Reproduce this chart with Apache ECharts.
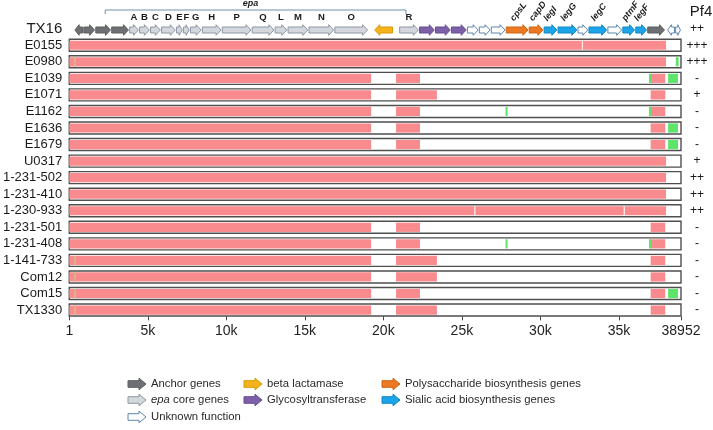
<!DOCTYPE html>
<html><head><meta charset="utf-8">
<script src="https://cdn.jsdelivr.net/npm/echarts@6/dist/echarts.min.js"></script>
<style>html,body{margin:0;padding:0;background:#fff}#c{width:713px;height:430px}</style>
</head><body><div id="c"></div>
<script>
// ---------- data ----------
const X_MIN = 1, X_MAX = 38952;
const rowNames = ['TX16','E0155','E0980','E1039','E1071','E1162','E1636','E1679','U0317','1-231-502','1-231-410','1-230-933','1-231-501','1-231-408','1-141-733','Com12','Com15','TX1330'];
const pf4 = ['++','+++','+++','-','+','-','-','-','+','++','++','++','-','-','-','-','-','-'];
const xTicks = [1,5000,10000,15000,20000,25000,30000,35000,38952];

const geneTypes = ['Anchor genes','epa core genes','beta lactamase','Glycosyltransferase','Polysaccharide biosynthesis genes','Sialic acid biosynthesis genes','Unknown function'];
const typeFill   = ['#6d6f72','#d4d7db','#f5b31b','#7d60a8','#ec7822','#1ca4e8','#ffffff'];
const typeStroke = ['#5c5e61','#8e98a5','#d99800','#664d92','#cf6414','#1188c8','#5f86b0'];

const geneStart  = [320,890,1650,2665,3807,4441,5140,5837,6789,7233,7677,8438,9707,11610,13070,13894,15226,16875,19413,20999,22268,23283,24298,25313,26074,26835,27787,29246,30198,31086,32355,33053,34258,35210,36034,36796,38065,38573];
const geneEnd    = [890,1650,2665,3807,4441,5140,5837,6789,7233,7677,8438,9707,11610,13070,13894,15226,16875,19032,20618,22268,23283,24298,25313,26074,26835,27787,29246,30198,31086,32355,33053,34258,35210,36034,36796,37938,38573,38952];
const geneStrand = [-1,1,1,1,1,1,1,1,1,1,1,1,1,1,1,1,1,1,-1,1,1,1,1,1,1,1,1,1,1,1,1,1,1,1,1,1,-1,1];
const geneType   = [0,0,0,0,1,1,1,1,1,1,1,1,1,1,1,1,1,1,2,1,3,3,3,6,6,6,4,4,5,5,6,5,6,5,5,0,6,6];
const geneLabel  = ['','','','','A','B','C','D','E','F','G','H','P','Q','L','M','N','O','','R','','','','','','','cpsL','capD','legI','legG','','legC','','ptmF','legF','','',''];
const epaBracket = [2290, 21440];

const pinkSegments = [
  ['E0155',1,32640],['E0155',32700,38000],
  ['E0980',1,38000],
  ['E1039',1,19222],['E1039',20808,22331],['E1039',37020,37950],
  ['E1071',1,19222],['E1071',20808,23410],['E1071',37020,37950],
  ['E1162',1,19222],['E1162',20808,22331],['E1162',37020,37950],
  ['E1636',1,19222],['E1636',20808,22331],['E1636',37020,37950],
  ['E1679',1,19222],['E1679',20808,22331],['E1679',37020,37950],
  ['U0317',1,38000],
  ['1-231-502',1,38000],
  ['1-231-410',1,38000],
  ['1-230-933',1,25790],['1-230-933',25860,35300],['1-230-933',35370,38000],
  ['1-231-501',1,19222],['1-231-501',20808,22331],['1-231-501',37020,37950],
  ['1-231-408',1,19222],['1-231-408',20808,22331],['1-231-408',37020,37950],
  ['1-141-733',1,19222],['1-141-733',20808,23410],['1-141-733',37020,37950],
  ['Com12',1,19222],['Com12',20808,23410],['Com12',37020,37950],
  ['Com15',1,19222],['Com15',20808,22331],['Com15',37020,37950],
  ['TX1330',1,19222],['TX1330',20808,23410],['TX1330',37020,37950]
];
const greenMarks = [
  ['E0980',38620,38800],
  ['E1039',36930,37020],['E1039',38130,38760],
  ['E1162',27790,27900],['E1162',36930,37020],
  ['E1636',38130,38760],
  ['E1679',38130,38760],
  ['1-231-408',27790,27900],['1-231-408',36930,37020],
  ['Com15',38130,38760]
];
const tanMarks = [
  ['E0980',300,420],['1-141-733',300,420],['Com12',300,420],['Com15',300,420],['TX1330',300,420]
];

// ---------- chart ----------
const rowIndex = {}; rowNames.forEach((n,i)=>rowIndex[n]=i);
const FONT = "'Liberation Sans', Arial, sans-serif";
const LEG_FONT = "'Liberation Sans', Arial, sans-serif";
const GENE_SHIFT = 1.3;
const BOX_H = 6, BAR_H = 4.6;

function arrowPts(x0, x1, cy, h1, h2, hlMax, dir){
  const len = x1 - x0;
  const hl = Math.min(hlMax, len * 0.55);
  if (dir >= 0) {
    return [[x0,cy-h1],[x1-hl,cy-h1],[x1-hl,cy-h2],[x1,cy],[x1-hl,cy+h2],[x1-hl,cy+h1],[x0,cy+h1]];
  }
  return [[x1,cy-h1],[x0+hl,cy-h1],[x0+hl,cy-h2],[x0,cy],[x0+hl,cy+h2],[x0+hl,cy+h1],[x1,cy+h1]];
}

function segRender(color, minW){
  return function(params, api){
    const r = api.value(1);
    const a = api.coord([api.value(0), r]);
    const b = api.coord([api.value(2), r]);
    let w = b[0]-a[0]; let x = a[0];
    if (w < minW){ x = (a[0]+b[0])/2 - minW/2; w = minW; }
    return {type:'rect', shape:{x:x, y:a[1]-BAR_H, width:w, height:BAR_H*2}, style:{fill:color}};
  };
}
function segData(list){ return list.map(s=>[s[1], rowIndex[s[0]], s[2]]); }

const series = [
  { type:'custom', name:'boxes', silent:true,
    data: rowNames.slice(1).map((n,i)=>[X_MIN, i+1, X_MAX]), encode:{x:[0,2], y:1},
    renderItem(params, api){
      const r = api.value(1);
      const a = api.coord([api.value(0), r]);
      const b = api.coord([api.value(2), r]);
      return {type:'rect', shape:{x:a[0], y:a[1]-BOX_H, width:b[0]-a[0], height:BOX_H*2},
        style:{fill:'#ffffff', stroke:'#4f4f4f', lineWidth:1.4}};
    } },
  { type:'custom', name:'aligned', silent:true, data: segData(pinkSegments), encode:{x:[0,2], y:1}, renderItem: segRender('#f98a8e', 1) },
  { type:'custom', name:'green', silent:true, data: segData(greenMarks), encode:{x:[0,2], y:1}, renderItem: segRender('#5ee36b', 2) },
  { type:'custom', name:'tan', silent:true, data: segData(tanMarks), encode:{x:[0,2], y:1}, renderItem: segRender('#dcb388', 2) },
  { type:'custom', name:'genes', silent:true,
    data: geneStart.map((s,i)=>[s, 0, geneEnd[i], geneStrand[i], geneType[i]]), encode:{x:[0,2], y:1},
    renderItem(params, api){
      const i = params.dataIndex;
      const a = api.coord([api.value(0), 0]);
      const b = api.coord([api.value(2), 0]);
      const cy = a[1] + GENE_SHIFT;
      const t = api.value(4);
      const children = [{
        type:'polygon',
        shape:{points: arrowPts(a[0]+0.6, b[0]-0.6, cy, 3, 5.3, 5, api.value(3))},
        style:{fill:typeFill[t], stroke:typeStroke[t], lineWidth:1}
      }];
      const lab = geneLabel[i];
      const cx = (a[0]+b[0])/2;
      if (lab && lab.length === 1) {
        children.push({type:'text', x:cx, y:cy-12.5,
          style:{text:lab, fill:'#1a1a1a', font:"bold 9.5px " + FONT, align:'center', verticalAlign:'middle'}});
      } else if (lab) {
        children.push({type:'text', x:cx-5, y:cy-10, rotation: 52*Math.PI/180,
          style:{text:lab, fill:'#1a1a1a', font:"italic bold 9px " + FONT, align:'left', verticalAlign:'middle'}});
      }
      return {type:'group', children};
    } },
  { type:'custom', name:'bracket', silent:true,
    data: [[epaBracket[0], 0, epaBracket[1]]], encode:{x:[0,2], y:1},
    renderItem(params, api){
      const a = api.coord([api.value(0), 0]);
      const b = api.coord([api.value(2), 0]);
      const y = a[1] + GENE_SHIFT - 20;
      return {type:'group', children:[
        {type:'polyline', shape:{points:[[a[0],y+4],[a[0],y],[b[0],y],[b[0],y+4.5]]}, style:{stroke:'#6f8fae', lineWidth:1, fill:null}},
        {type:'text', x:(a[0]+b[0])/2 - 5, y:y-6, style:{text:'epa', fill:'#1a1a1a', font:"italic bold 9px " + FONT, align:'center', verticalAlign:'middle'}}
      ]};
    } }
];

// legend (drawn as graphic)
const legCols = [128, 244, 382];
const legRows = [384, 400, 417];
const legLayout = [[0,0,0],[1,0,1],[6,0,2],[2,1,0],[3,1,1],[4,2,0],[5,2,1]];
const graphics = [];
legLayout.forEach(([t,c,r])=>{
  const x = legCols[c], y = legRows[r];
  graphics.push({type:'polygon', shape:{points: arrowPts(x, x+18, y, 3.3, 5.8, 7, 1)},
    style:{fill:typeFill[t], stroke:typeStroke[t], lineWidth:1}});
  const isEpa = t === 1;
  graphics.push({type:'text', x:x+23, y:y,
    style:{text: isEpa ? '{i|epa} core genes' : geneTypes[t], fill:'#2a2a2a', font:"11.3px " + LEG_FONT,
      verticalAlign:'middle', align:'left',
      rich:{i:{fontStyle:'italic', fontFamily:LEG_FONT, fontSize:11.3, fill:'#2a2a2a'}}}});
});
graphics.push({type:'text', x:701, y:12, style:{text:'Pf4', fill:'#1a1a1a', font:"15px " + FONT, align:'center', verticalAlign:'middle'}});

const option = {
  animation:false,
  backgroundColor:'#ffffff',
  grid:{left:67, right:32, top:20.43, height:297.9},
  xAxis:{type:'value', min:X_MIN, max:X_MAX, offset:-2,
    axisLine:{show:false}, splitLine:{show:false},
    axisTick:{show:true, customValues:xTicks, length:4, lineStyle:{color:'#444', width:1}},
    axisLabel:{customValues:xTicks, fontSize:14, color:'#222', fontFamily:FONT, margin:8,
      formatter:v => v===1 ? '1' : (v===38952 ? '38952' : (v/1000)+'k')}},
  yAxis:[
    {type:'category', data:rowNames, inverse:true, axisLine:{show:false}, axisTick:{show:false}, splitLine:{show:false},
      axisLabel:{interval:0, fontSize:13, color:'#1a1a1a', fontFamily:FONT, margin:7,
        formatter:v => v==='TX16' ? '{big|TX16}' : v,
        rich:{big:{fontSize:15, fontFamily:FONT, color:'#1a1a1a'}}}},
    {type:'category', data:rowNames, inverse:true, position:'right', axisLine:{show:false}, axisTick:{show:false}, splitLine:{show:false},
      axisLabel:{interval:0, fontSize:12, color:'#1a1a1a', fontFamily:FONT, margin:16, align:'center',
        formatter:(v, i) => pf4[rowIndex[v]]}}
  ],
  graphic: graphics,
  series: series
};
const chart = echarts.init(document.getElementById('c'));
chart.setOption(option);
</script>
</body></html>
